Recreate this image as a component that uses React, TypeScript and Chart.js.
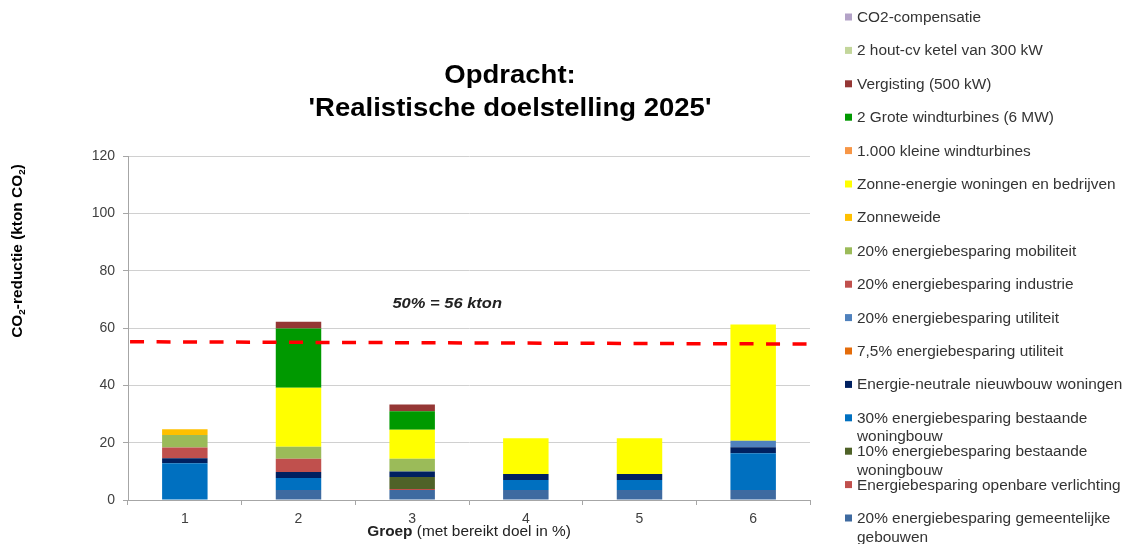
import React, { useEffect, useRef } from 'react';
import { Chart, registerables } from 'chart.js';

Chart.register(...registerables);

// ---------- data ----------
const groups = ['1', '2', '3', '4', '5', '6'];

// series, listed bottom of the stack first
const gemeentelijkeGebouwen = [0, 3.5, 3.5, 3.5, 3.5, 3.5];
const openbareVerlichting = [0, 0, 0.3, 0, 0, 0];
const bestaande10 = [0, 0, 4.2, 0, 0, 0];
const bestaande30 = [12.8, 4.2, 0, 3.5, 3.5, 12.8];
const nieuwbouwNeutraal = [1.8, 2.1, 1.9, 2.1, 2.1, 2.1];
const utiliteit75 = [0, 0, 0, 0, 0, 0];
const utiliteit20 = [0, 0, 0, 0, 0, 2.3];
const industrie20 = [3.7, 4.6, 0, 0, 0, 0];
const mobiliteit20 = [4.4, 4.2, 4.5, 0, 0, 0];
const zonneweide = [2.0, 0, 0, 0, 0, 0];
const zonneEnergie = [0, 20.6, 10.1, 12.4, 12.4, 40.5];
const kleineWind = [0, 0, 0, 0, 0, 0];
const groteWind = [0, 20.6, 6.5, 0, 0, 0];
const vergisting = [0, 2.4, 2.3, 0, 0, 0];
const houtCv = [0, 0, 0, 0, 0, 0];
const co2Compensatie = [0, 0, 0, 0, 0, 0];

const seriesLabels = [
  '20% energiebesparing gemeentelijke gebouwen',
  'Energiebesparing openbare verlichting',
  '10% energiebesparing bestaande woningbouw',
  '30% energiebesparing bestaande woningbouw',
  'Energie-neutrale nieuwbouw woningen',
  '7,5% energiebesparing utiliteit',
  '20% energiebesparing utiliteit',
  '20% energiebesparing industrie',
  '20% energiebesparing mobiliteit',
  'Zonneweide',
  'Zonne-energie woningen en bedrijven',
  '1.000 kleine windturbines',
  '2 Grote windturbines (6 MW)',
  'Vergisting (500 kW)',
  '2 hout-cv ketel van 300 kW',
  'CO2-compensatie',
];
const seriesValues = [
  gemeentelijkeGebouwen, openbareVerlichting, bestaande10, bestaande30, nieuwbouwNeutraal,
  utiliteit75, utiliteit20, industrie20, mobiliteit20, zonneweide, zonneEnergie,
  kleineWind, groteWind, vergisting, houtCv, co2Compensatie,
];
const seriesColors = [
  '#3E6AA0', '#C0504D', '#4F6228', '#0070C0', '#002060',
  '#E46C0A', '#4F81BD', '#C0504D', '#9BBB59', '#FFC000', '#FFFF00',
  '#F79646', '#009900', '#953735', '#C3D69B', '#B3A2C7',
];

// target line (start / end of the dashed line across the plot)
const targetLineX = [0.003, 0.997];
const targetLineY = [55.2, 54.4];
const targetLabel = '50% = 56 kton';
const targetLabelPos = { x: 0.468, y: 68.8 };

const yMin = 0;
const yMax = 120;
const yStep = 20;

const titleLines = ['Opdracht:', "'Realistische doelstelling 2025'"];
const xTitleBold = 'Groep';
const xTitleRest = ' (met bereikt doel in %)';

// ---------- drawing helpers ----------
const FONT = '"Liberation Sans", Arial, sans-serif';
const SX = 1.1;

function stretchedText(
  ctx: CanvasRenderingContext2D, text: string, x: number, y: number,
  font: string, align: CanvasTextAlign, color: string, sx = SX,
) {
  ctx.save();
  ctx.font = font;
  ctx.fillStyle = color;
  ctx.textAlign = align;
  ctx.textBaseline = 'alphabetic';
  ctx.translate(x, y);
  ctx.scale(sx, 1);
  ctx.fillText(text, 0, 0);
  ctx.restore();
}

function wrapWords(ctx: CanvasRenderingContext2D, text: string, maxW: number, sx: number) {
  const words = text.split(' ');
  const lines: string[] = [];
  let cur = '';
  for (const w of words) {
    const test = cur ? cur + ' ' + w : w;
    if (ctx.measureText(test).width * sx > maxW && cur) {
      lines.push(cur);
      cur = w;
    } else {
      cur = test;
    }
  }
  if (cur) lines.push(cur);
  return lines;
}

const textPlugin = {
  id: 'customTexts',
  afterDraw(chart: any) {
    const ctx: CanvasRenderingContext2D = chart.ctx;
    const area = chart.chartArea;
    const W = chart.width;

    // title
    const tx = area.left + (area.right - area.left) / 2 + 41;
    stretchedText(ctx, titleLines[0], tx, 83, `bold 25px ${FONT}`, 'center', '#000');
    stretchedText(ctx, titleLines[1], tx, 116, `bold 25px ${FONT}`, 'center', '#000');

    // y-axis title with subscripts
    ctx.save();
    ctx.translate(22, 251);
    ctx.rotate(-Math.PI / 2);
    ctx.scale(SX, 1);
    ctx.fillStyle = '#000';
    ctx.textBaseline = 'alphabetic';
    const big = `bold 14px ${FONT}`;
    const sub = `bold 9px ${FONT}`;
    const parts: [string, boolean][] = [['CO', false], ['2', true], ['-reductie (kton CO', false], ['2', true], [')', false]];
    let total = 0;
    for (const [t, s] of parts) { ctx.font = s ? sub : big; total += ctx.measureText(t).width; }
    let cx = -total / 2;
    ctx.textAlign = 'left';
    for (const [t, s] of parts) {
      ctx.font = s ? sub : big;
      ctx.fillText(t, cx, s ? 3 : 0);
      cx += ctx.measureText(t).width;
    }
    ctx.restore();

    // x-axis title (bold + normal)
    ctx.save();
    const xb = `bold 14px ${FONT}`;
    const xn = `14px ${FONT}`;
    ctx.font = xb;
    const wb = ctx.measureText(xTitleBold).width * SX;
    ctx.font = xn;
    const wn = ctx.measureText(xTitleRest).width * SX;
    const xc = (area.left + area.right) / 2;
    const start = xc - (wb + wn) / 2;
    ctx.restore();
    stretchedText(ctx, xTitleBold, start, 536, xb, 'left', '#222');
    stretchedText(ctx, xTitleRest, start + wb, 536, xn, 'left', '#222');

    // target label
    const lx = chart.scales.x2.getPixelForValue(targetLabelPos.x);
    const ly = chart.scales.y.getPixelForValue(targetLabelPos.y);
    stretchedText(ctx, targetLabel, lx, ly + 5, `italic bold 15px ${FONT}`, 'center', '#222');

    // legend (top item = top of stack)
    const bars = chart.data.datasets.filter((d: any) => d.type !== 'line').slice().reverse();
    const boxX = W - 287;
    const textX = W - 275;
    const maxW = W - textX - 2;
    ctx.save();
    ctx.font = `14px ${FONT}`;
    bars.forEach((d: any, i: number) => {
      const y = 17 + i * 33.4;
      ctx.fillStyle = d.backgroundColor;
      ctx.fillRect(boxX, y - 3.5, 7, 7);
      ctx.font = `14px ${FONT}`;
      const lines = wrapWords(ctx, d.label, maxW, SX);
      lines.forEach((ln, j) => {
        stretchedText(ctx, ln, textX, y + 5 + j * 18.5, `14px ${FONT}`, 'left', '#333');
      });
    });
    ctx.restore();
  },
};

export default function App() {
  const ref = useRef<HTMLCanvasElement | null>(null);

  useEffect(() => {
    if (!ref.current) return;
    const barSets = seriesLabels.map((label, i) => ({
      type: 'bar' as const,
      label,
      data: seriesValues[i],
      backgroundColor: seriesColors[i],
      borderWidth: 0,
      barPercentage: 0.4,
      categoryPercentage: 1,
      grouped: false,
      stack: 'all',
      xAxisID: 'x',
      yAxisID: 'y',
    }));
    const lineSet = {
      type: 'line' as const,
      label: 'Doel',
      data: targetLineX.map((x, i) => ({ x, y: targetLineY[i] })),
      borderColor: '#FF0000',
      borderWidth: 3.5,
      borderDash: [14, 12.5],
      pointRadius: 0,
      fill: false,
      order: -1,
      xAxisID: 'x2',
      yAxisID: 'y',
    };
    const chart = new Chart(ref.current, {
      type: 'bar',
      data: { labels: groups, datasets: [lineSet as any, ...barSets] },
      options: {
        responsive: false,
        animation: false,
        devicePixelRatio: 1,
        layout: { padding: { top: 156, right: 322, left: 0, bottom: 0 } },
        plugins: {
          legend: { display: false },
          title: { display: false },
          tooltip: { enabled: false },
        },
        scales: {
          x: {
            stacked: true,
            offset: true,
            grid: { display: true, drawOnChartArea: false, drawTicks: true, tickLength: 5, color: '#A6A6A6', offset: true },
            border: { display: true, color: '#A6A6A6', width: 1 },
            ticks: { font: { family: FONT, size: 14 }, color: '#404040', padding: 6 },
            afterFit: (s: any) => { s.height = 44; },
          },
          x2: { type: 'linear', min: 0, max: 1, display: false, offset: false, grid: { offset: false } },
          y: {
            stacked: true,
            min: yMin,
            max: yMax,
            ticks: { stepSize: yStep, padding: 8, font: { family: FONT, size: 14 }, color: '#404040' },
            grid: { color: '#D0D0D0', tickLength: 5, tickColor: '#A6A6A6' },
            border: { display: true, color: '#A6A6A6', width: 1 },
            afterFit: (s: any) => { s.width = 128; },
          },
        } as any,
      },
      plugins: [textPlugin],
    });
    return () => chart.destroy();
  }, []);

  return (
    <div style={{ position: 'absolute', left: 0, top: 0, width: 1132, height: 544, background: '#fff' }}>
      <canvas ref={ref} width={1132} height={544} />
    </div>
  );
}
